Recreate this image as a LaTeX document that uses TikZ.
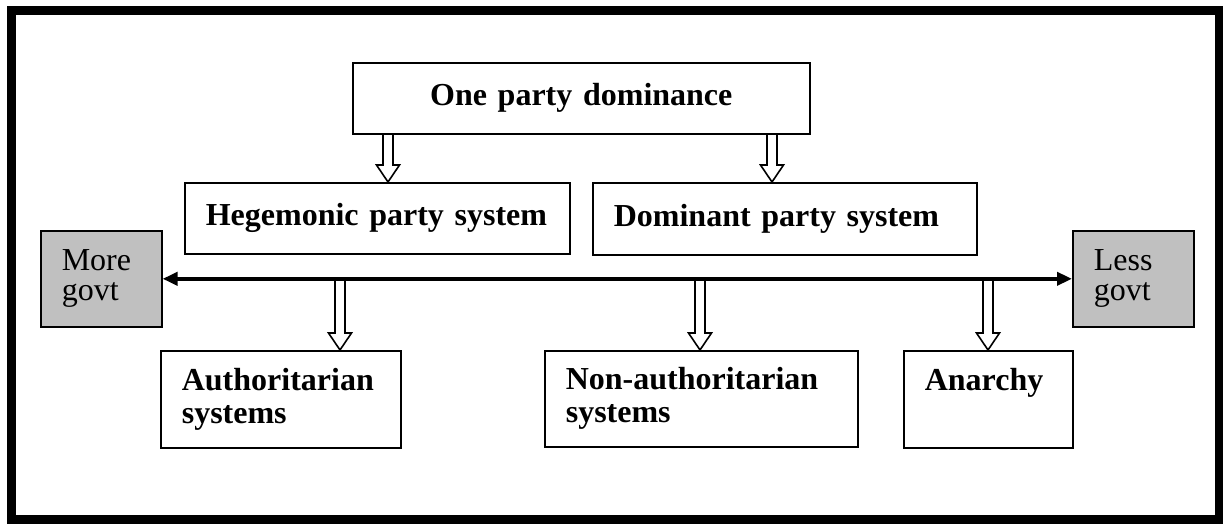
\documentclass[tikz,border=0pt]{standalone}
\usepackage{fontspec}
\setmainfont{Liberation Serif}
\usepackage{tikz}
\usetikzlibrary{arrows.meta}
\usetikzlibrary{calc}

\definecolor{govtgrey}{HTML}{C0C0C0}

\tikzset{
  box/.style={draw,rectangle,line width=1.6pt,anchor=north west,inner xsep=21pt,inner ysep=0pt,
    align=left,font=\fontsize{32}{33}\selectfont\bfseries},
  govt/.style={box,fill=govtgrey,text width=79pt,minimum height=96pt,font=\fontsize{32}{30}\selectfont},
  hollow/.style={to path={let \p1=(\tikztostart), \p2=(\tikztotarget) in
    (\x1-5pt,\y1) -- (\x1-5pt,\y2+17pt) -- (\x1-11.5pt,\y2+17pt) -- (\x2,\y2)
    -- (\x1+11.5pt,\y2+17pt) -- (\x1+5pt,\y2+17pt) -- (\x1+5pt,\y1)}}
}

\begin{document}
\begin{tikzpicture}[x=1pt,y=-1pt]

  \useasboundingbox (0,0) rectangle (1223,523);
  \draw [line width=9pt] (11.5,10.5) rectangle (1219.5,519.5);

  % party systems
  \node [box,align=center,text width=415pt,minimum height=71pt] (onep) at (352,62) {One party dominance};
  \node [box,text width=343pt,minimum height=71pt] (heg) at (184,182) {Hegemonic party system};
  \node [box,text width=342pt,minimum height=72pt] (dom) at (592,182) {Dominant party system};

  % scale of government
  \node [govt] (more) at (40,230) {More\\govt};
  \node [govt] (less) at (1072,230) {Less\\govt};

  \node [box,text width=198pt,minimum height=97pt] (auth) at (160,350) {Authoritarian\\systems};
  \node [box,text width=271pt,minimum height=96pt] (nonauth) at (544,350) {Non-authoritarian\\systems};
  \node [box,text width=127pt,minimum height=97pt] (anar) at (903,350) {Anarchy\\\phantom{systems}};

  \draw [line width=4pt,{Triangle[length=15pt,width=13pt]}-{Triangle[length=15pt,width=13pt]}]
    (more.east) -- (less.west);

  \path [draw,fill=white,line width=1.6pt,hollow]
    (onep.south -| 388,0) edge (heg.north -| 388,0)
    (onep.south -| 772,0) edge (dom.north -| 772,0)
    (more.east -| 340,0)  edge (auth.north -| 340,0)
    (more.east -| 700,0)  edge (nonauth.north -| 700,0)
    (more.east -| 988,0)  edge (anar.north -| 988,0);

\end{tikzpicture}
\end{document}
